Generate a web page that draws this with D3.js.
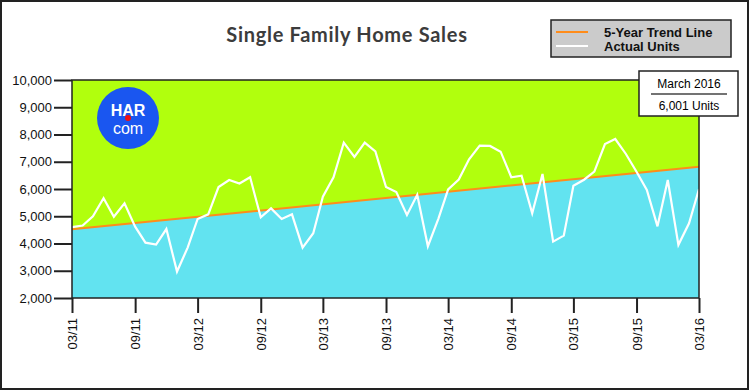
<!DOCTYPE html>
<html>
<head>
<meta charset="utf-8">
<script src="https://cdn.jsdelivr.net/npm/d3@7"></script>
<style>
  body { margin: 0; background: #fff; }
  svg { display: block; }
  .axis text { font-family: "Liberation Sans", Arial, sans-serif; font-size: 13px; fill: #111; }
  .axis line, .axis path { stroke: #222; stroke-width: 2px; }
</style>
</head>
<body>
<svg id="chart" width="750" height="391"></svg>
<script>
// monthly sales, 03/11 .. 03/16
var months = [
  "03/11","04/11","05/11","06/11","07/11","08/11","09/11","10/11","11/11","12/11","01/12","02/12",
  "03/12","04/12","05/12","06/12","07/12","08/12","09/12","10/12","11/12","12/12","01/13","02/13",
  "03/13","04/13","05/13","06/13","07/13","08/13","09/13","10/13","11/13","12/13","01/14","02/14",
  "03/14","04/14","05/14","06/14","07/14","08/14","09/14","10/14","11/14","12/14","01/15","02/15",
  "03/15","04/15","05/15","06/15","07/15","08/15","09/15","10/15","11/15","12/15","01/16","02/16",
  "03/16"
];
var actualUnits = [
  4600, 4660, 5000, 5660, 4980, 5475, 4620, 4030, 3960, 4530, 2970, 3850,
  4900, 5070, 6070, 6330, 6200, 6430, 4960, 5290, 4900, 5070, 3850, 4375,
  5720, 6430, 7700, 7180, 7700, 7380, 6070, 5890, 5045, 5790, 3900, 4925,
  5985, 6350, 7090, 7590, 7580, 7370, 6430, 6490, 5110, 6550, 4070, 4290,
  6120, 6340, 6640, 7650, 7835, 7285, 6635, 5965, 4630, 6330, 3950, 4740,
  6001
];
var trendMonths = ["03/11", "03/16"];
var trendUnits = [4520, 6820];
var tickLabels = ["03/11","09/11","03/12","09/12","03/13","09/13","03/14","09/14","03/15","09/15","03/16"];
var yTicks = [2000, 3000, 4000, 5000, 6000, 7000, 8000, 9000, 10000];

var parse = d3.timeParse("%m/%y");
var fmtMonth = d3.timeFormat("%m/%y");

var svg = d3.select("#chart");
var plotL = 72, plotR = 699, plotT = 80, plotB = 298;

var x = d3.scaleTime()
    .domain([parse(months[0]), parse(months[months.length - 1])])
    .range([plotL, plotR]);
var y = d3.scaleLinear().domain([2000, 10000]).range([plotB, plotT]);

var series = months.map(function (m, i) { return { date: parse(m), value: actualUnits[i] }; });
var trend = trendMonths.map(function (m, i) { return { date: parse(m), value: trendUnits[i] }; });

// outer frame
svg.append("rect")
    .attr("x", 1).attr("y", 1).attr("width", 747).attr("height", 388)
    .attr("fill", "#fff").attr("stroke", "#222").attr("stroke-width", 2);

// title
svg.append("text")
    .attr("x", 347).attr("y", 42)
    .attr("text-anchor", "middle")
    .style("font-family", "Lato, 'Open Sans', sans-serif")
    .style("font-size", "20px")
    .style("font-weight", "bold")
    .style("letter-spacing", "0.7px")
    .style("fill", "#3c3c3c")
    .text("Single Family Home Sales");

// plot background (above trend)
svg.append("rect")
    .attr("x", plotL).attr("y", plotT)
    .attr("width", plotR - plotL).attr("height", plotB - plotT)
    .attr("fill", "#b1ff0d");

// area under trend
svg.append("path")
    .datum(trend)
    .attr("fill", "#62e3f0")
    .attr("d", d3.area()
        .x(function (d) { return x(d.date); })
        .y0(plotB)
        .y1(function (d) { return y(d.value); }));

svg.append("path")
    .datum(trend)
    .attr("fill", "none")
    .attr("stroke", "#ff8c1a")
    .attr("stroke-width", 2)
    .attr("d", d3.line()
        .x(function (d) { return x(d.date); })
        .y(function (d) { return y(d.value); }));

svg.append("path")
    .datum(series)
    .attr("fill", "none")
    .attr("stroke", "#fff")
    .attr("stroke-width", 2.2)
    .attr("stroke-linejoin", "miter")
    .attr("d", d3.line()
        .x(function (d) { return x(d.date); })
        .y(function (d) { return y(d.value); }));

// plot frame
svg.append("rect")
    .attr("x", plotL).attr("y", plotT)
    .attr("width", plotR - plotL).attr("height", plotB - plotT)
    .attr("fill", "none").attr("stroke", "#222").attr("stroke-width", 1.5);

// axes
svg.append("g")
    .attr("class", "axis")
    .attr("transform", "translate(" + plotL + ",0)")
    .call(d3.axisLeft(y).tickValues(yTicks).tickFormat(d3.format(",")).tickSize(18).tickPadding(2).tickSizeOuter(0))
    .select(".domain").remove();

var xAxis = svg.append("g")
    .attr("class", "axis")
    .attr("transform", "translate(0," + plotB + ")")
    .call(d3.axisBottom(x).tickValues(tickLabels.map(parse)).tickFormat(fmtMonth).tickSize(15).tickSizeOuter(0));
xAxis.select(".domain").remove();
xAxis.selectAll("text")
    .attr("transform", "rotate(-90)")
    .attr("x", -20).attr("y", 0).attr("dy", "0.35em")
    .style("text-anchor", "end");

// logo
var logo = svg.append("g").attr("transform", "translate(128,118)");
logo.append("circle").attr("r", 31).attr("fill", "#1a56f0");
logo.append("text").attr("y", -2).attr("text-anchor", "middle")
    .style("font-family", "'Liberation Sans', Arial, sans-serif").style("font-weight", "bold")
    .style("font-size", "16px").style("fill", "#fff").text("HAR");
logo.append("text").attr("y", 16).attr("text-anchor", "middle")
    .style("font-family", "'Liberation Sans', Arial, sans-serif")
    .style("font-size", "16px").style("fill", "#fff").text("com");
logo.append("circle").attr("cx", 0).attr("cy", 0).attr("r", 3).attr("fill", "#f01010");

// legend
var legend = svg.append("g");
legend.append("rect")
    .attr("x", 551).attr("y", 20).attr("width", 180).attr("height", 37)
    .attr("fill", "#cbcbcb").attr("stroke", "#222").attr("stroke-width", 1.5);
legend.append("line").attr("x1", 556).attr("x2", 588).attr("y1", 32).attr("y2", 32)
    .attr("stroke", "#ff8c1a").attr("stroke-width", 2);
legend.append("line").attr("x1", 556).attr("x2", 588).attr("y1", 46).attr("y2", 46)
    .attr("stroke", "#fff").attr("stroke-width", 2);
legend.selectAll("text.lg")
    .data(["5-Year Trend Line", "Actual Units"])
    .enter().append("text")
    .attr("x", 604)
    .attr("y", function (d, i) { return 37 + i * 14; })
    .style("font-family", "'Liberation Sans', Arial, sans-serif")
    .style("font-weight", "bold").style("font-size", "13px").style("fill", "#111")
    .text(function (d) { return d; });

// current value box
var last = series[series.length - 1];
var note = svg.append("g");
note.append("rect")
    .attr("x", 639).attr("y", 71).attr("width", 99).attr("height", 45)
    .attr("fill", "#fff").attr("stroke", "#222").attr("stroke-width", 1.5);
note.append("text").attr("x", 689).attr("y", 88).attr("text-anchor", "middle")
    .style("font-family", "'Liberation Sans', Arial, sans-serif").style("font-size", "12px")
    .text(d3.timeFormat("%B %Y")(last.date));
note.append("line").attr("x1", 651).attr("x2", 727).attr("y1", 94).attr("y2", 94)
    .attr("stroke", "#444").attr("stroke-width", 1.5);
note.append("text").attr("x", 689).attr("y", 110).attr("text-anchor", "middle")
    .style("font-family", "'Liberation Sans', Arial, sans-serif").style("font-size", "12px")
    .text(d3.format(",")(last.value) + " Units");
</script>
</body>
</html>
